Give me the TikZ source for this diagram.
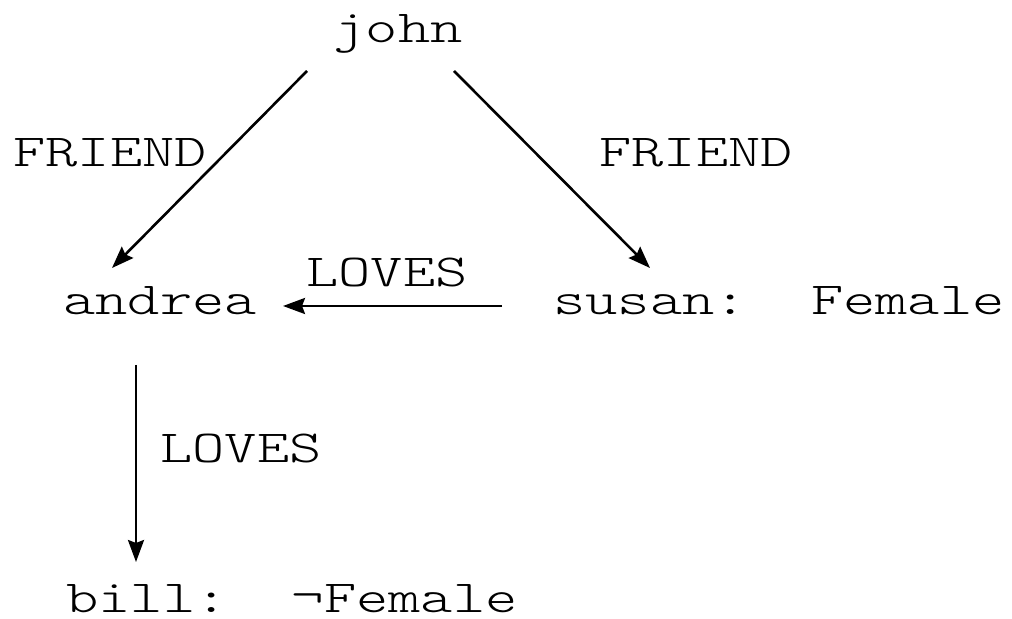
\documentclass[tikz,border=0pt]{standalone}
\usepackage{fontspec}
\setmonofont[FakeStretch=1.34]{Latin Modern Mono Light}
\usetikzlibrary{arrows.meta}
\begin{document}
\begin{tikzpicture}[x=0.5pt,y=-0.5pt,
  lbl/.style={inner sep=0pt,outer sep=0pt,anchor=base,font=\ttfamily\fontsize{22.9pt}{28pt}\selectfont},
  arr/.style={line width=1.3pt,-{Stealth[length=11pt,width=8pt,inset=1.5pt]}}]
\useasboundingbox (0,0) rectangle (1012,619);
\node[lbl] (john) at (398,43) {john};
\node[lbl] (fr1) at (110,167) {FRIEND};
\node[lbl] (fr2) at (696,167) {FRIEND};
\node[lbl] (andrea) at (160,315) {andrea};
\node[lbl] (lv1) at (387,287) {LOVES};
\node[lbl] (susan) at (779,315) {susan:\ \ Female};
\node[lbl] (lv2) at (241,463) {LOVES};
\node[lbl] (bill) at (292,613) {bill:\ \ ¬Female};
\draw[arr] ([shift={(-91,28)}]john.base) -- ([shift={(-48,-47)}]andrea.base);
\draw[arr] ([shift={(56,28)}]john.base) -- ([shift={(-129,-47)}]susan.base);
\draw[arr] ([shift={(-277,-9)}]susan.base) -- ([shift={(123,-9)}]andrea.base);
\draw[arr] ([shift={(-24,50)}]andrea.base) -- ([shift={(-156,-51)}]bill.base);
\end{tikzpicture}
\end{document}
